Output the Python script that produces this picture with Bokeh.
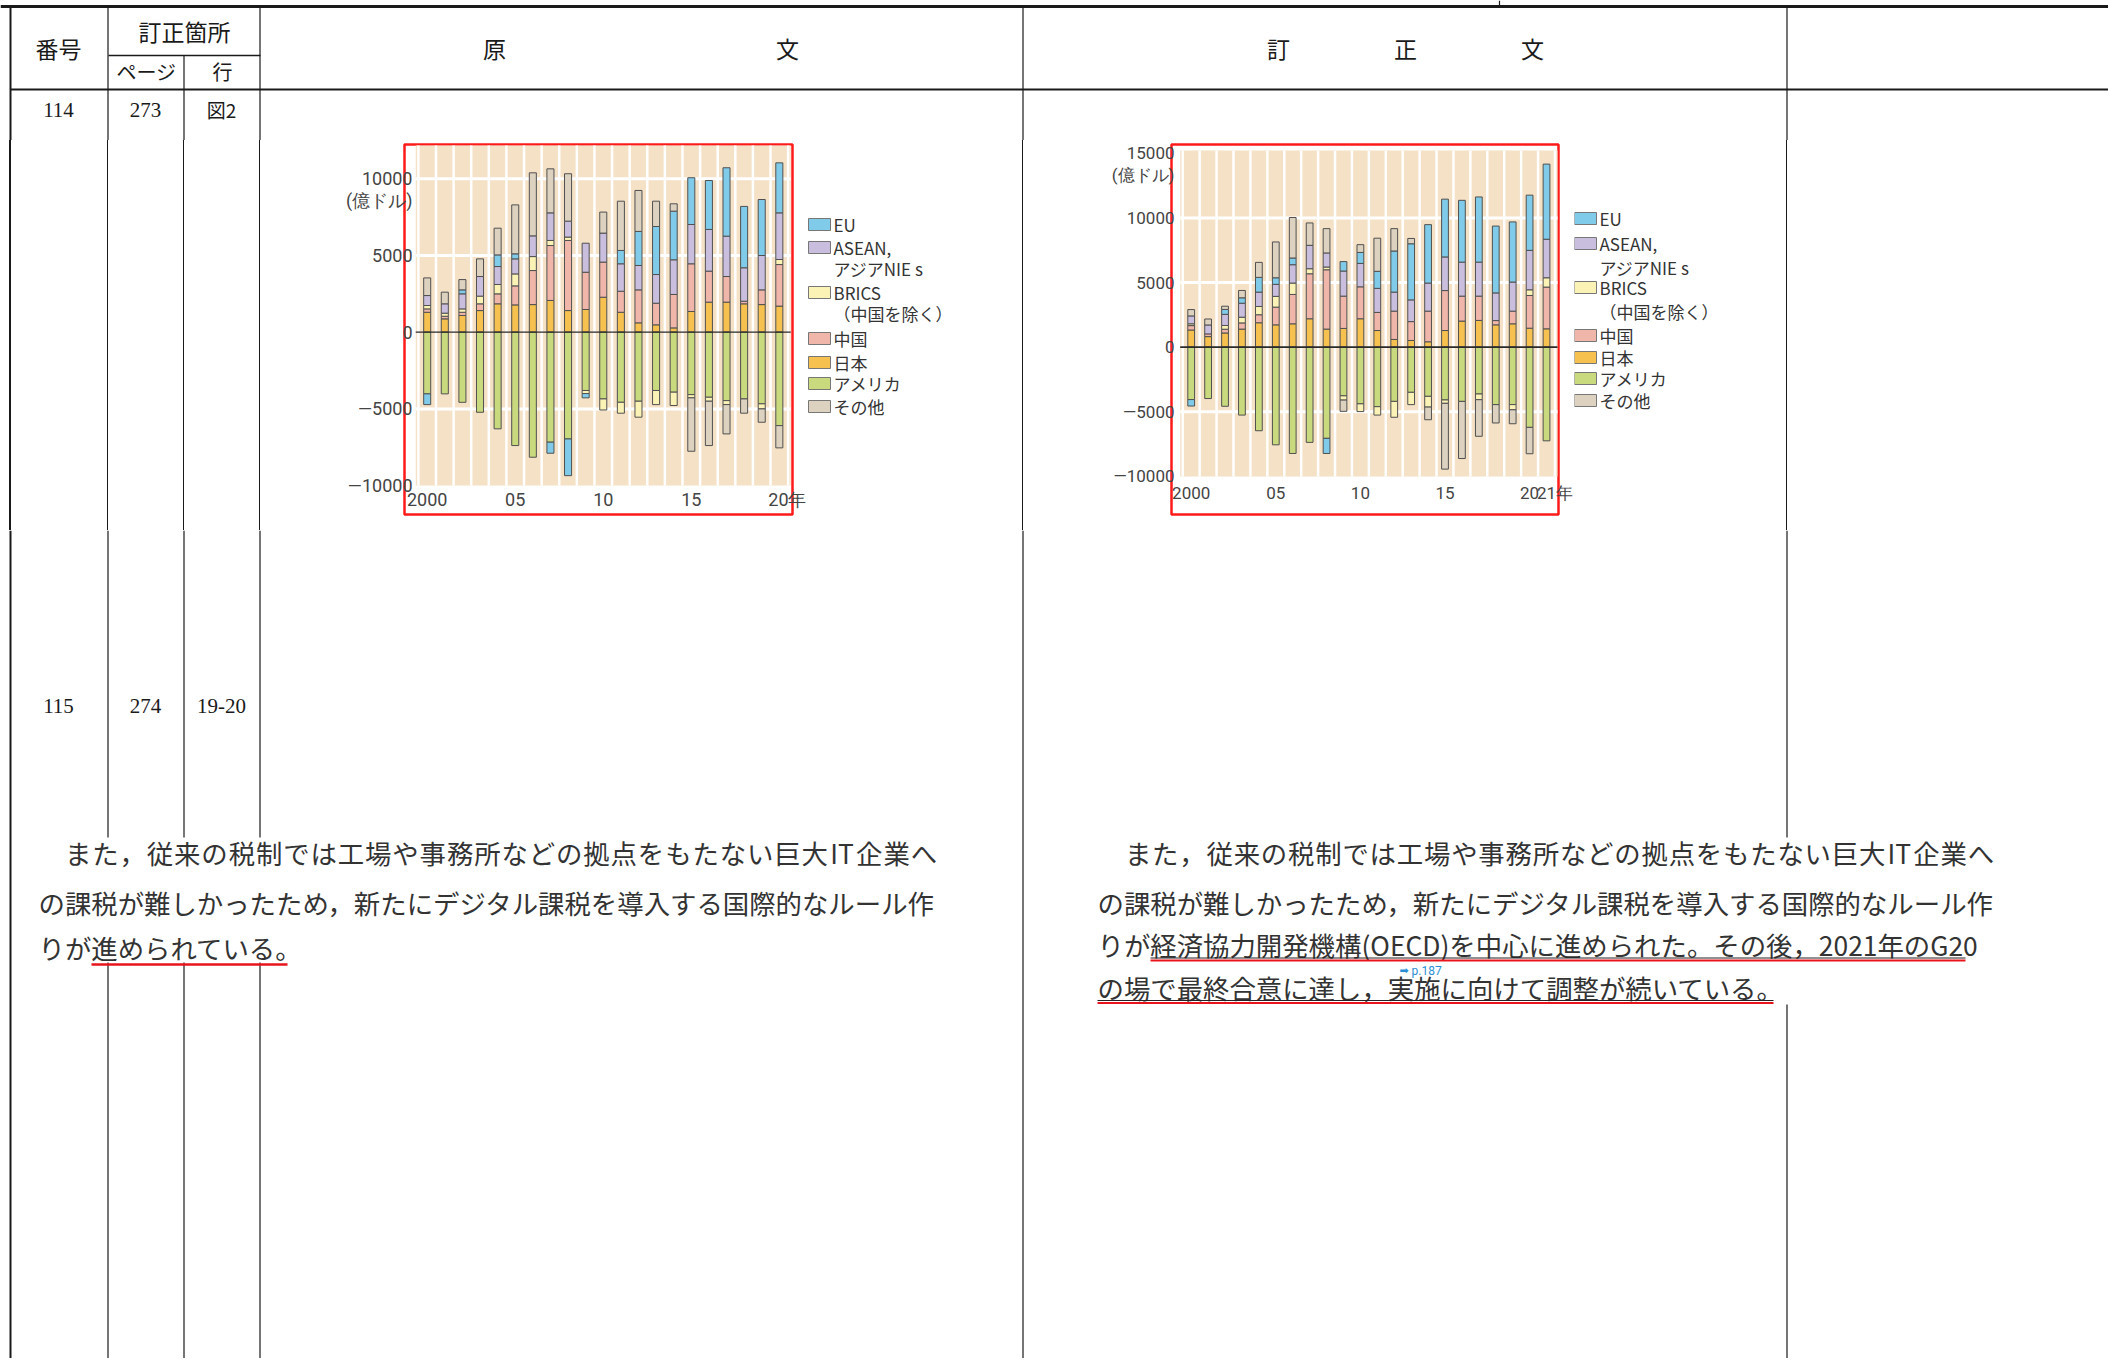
from bokeh.plotting import figure
from bokeh.layouts import column, row
from bokeh.models import Range1d, FixedTicker, ColumnDataSource, Spacer, Div
from bokeh.embed import file_html
from bokeh.resources import INLINE
from bokeh.core.properties import value

# ---------------- data (100 million US$) ----------------
series_keys = ["eu", "asean", "brics", "china", "japan", "usa", "other"]
legend_lines = [["EU"], ["ASEAN,", "アジアNIE s"], ["BRICS", "（中国を除く）"],
                ["中国"], ["日本"], ["アメリカ"], ["その他"]]

years_orig = list(range(2000, 2021))
eu_orig    = [-700, 0, 260, 0, 760, 330, 0, -720, -2390, -280, 0, 870, 2220, 3130, 3170, 3050, 3190, 4460, 4000, 3650, 3260]
asean_orig = [650, 610, 980, 1280, 1170, 980, 1350, 1800, 1040, 1890, 1890, 1790, 1590, 1870, 2260, 2560, 2720, 2630, 2180, 2240, 3040]
brics_orig = [220, 200, 220, 500, 610, 780, 910, 330, 220, -200, -720, -710, -1040, -920, -870, -210, -260, -260, 0, -330, 330]
china_orig = [220, 170, 210, 440, 650, 1240, 2220, 3580, 4570, 2430, 2290, 1370, 2150, 1410, 2180, 3110, 2020, 1670, 170, 960, 2710]
japan_orig = [1300, 870, 1090, 1410, 1850, 1780, 1800, 2070, 1410, 1480, 2280, 1300, 610, 480, 280, 1350, 1960, 1960, 1850, 1800, 1700]
usa_orig   = [-4020, -4020, -4570, -5220, -6300, -7390, -8150, -7170, -6960, -3800, -4350, -4570, -4500, -3800, -3910, -4070, -4240, -4460, -4350, -4670, -6090]
other_orig = [1150, 760, 670, 1150, 1740, 3190, 4110, 2870, 3090, 0, 1370, 3210, 2670, 1650, 480, -3480, -2890, -1910, -930, -870, -1450]

years_corr = list(range(2000, 2022))
eu_corr    = [-500, 0, 380, 420, 1140, 510, 520, 0, -1170, 730, 850, 1320, 3180, 4340, 4520, 4470, 4780, 5040, 5170, 4650, 4270, 5810]
asean_corr = [610, 690, 860, 1080, 1110, 930, 1420, 1810, 1090, 1940, 1810, 1860, 1470, 1680, 2170, 2600, 2630, 2630, 2140, 2250, 3050, 2980]
brics_corr = [140, 0, 290, 440, 640, 830, 880, 390, 210, -330, -600, -650, -1230, -950, -830, -260, 0, -440, 0, -400, 440, 720]
china_corr = [340, 210, 290, 480, 620, 1370, 2270, 3480, 4590, 2500, 2470, 1400, 2190, 1460, 2370, 3090, 1930, 1880, 330, 980, 2530, 3230]
japan_corr = [1330, 820, 1100, 1400, 1890, 1730, 1810, 2200, 1400, 1450, 2200, 1290, 600, 520, 420, 1290, 2020, 2070, 1730, 1810, 1470, 1420]
usa_corr   = [-4050, -3970, -4570, -5250, -6460, -7550, -8220, -7360, -7050, -3760, -4380, -4600, -4190, -3490, -3800, -4080, -4190, -3620, -4440, -4440, -6200, -7240]
other_corr = [490, 460, 250, 570, 1160, 2770, 3130, 1730, 1880, -870, 600, 2560, 1730, 410, -980, -5090, -4420, -2830, -1420, -1080, -2040, 0]

xticks_orig = [2000, 2005, 2010, 2015, 2020]
xlabels_orig = ["2000", "05", "10", "15", "\u300020年"]
xticks_corr = [2000, 2005, 2010, 2015, 2020, 2021]
xlabels_corr = ["2000", "05", "10", "15", "20", "\u300021年"]
yticks_orig = [-10000, -5000, 0, 5000, 10000]
yticks_corr = [-10000, -5000, 0, 5000, 10000, 15000]
ygrid_vals = [-5000, 5000, 10000]
unit_label = "(億ドル)"

# ---------------- styling ----------------
COLOR = {"eu": "#7fcbe9", "asean": "#c9bedd", "brics": "#fbf3b6", "china": "#f1b6aa",
         "japan": "#f6c14f", "usa": "#c9d97d", "other": "#dcd2bf"}
POS_ORDER = ["japan", "china", "brics", "asean", "eu", "other", "usa"]
NEG_ORDER = ["usa", "brics", "eu", "other", "japan", "china", "asean"]
BEIGE = "#f4e1c6"
INK = "#1a1a1a"
CJK = "Noto Sans CJK JP"
PAGE_W = 2108
ROW_Y0, ROW_Y1 = 140, 530
FRAME_T, FRAME_B = 144, 514
BOT_Y1 = 1358
H = ROW_Y1 - ROW_Y0


def stack_source(years, table):
    xs, bots, tops, cols = [], [], [], []
    for i, yr in enumerate(years):
        base = 0.0
        for k in POS_ORDER:
            v = table[k][i]
            if v > 0:
                xs.append(yr); bots.append(base); tops.append(base + v); cols.append(COLOR[k]); base += v
        base = 0.0
        for k in NEG_ORDER:
            v = table[k][i]
            if v < 0:
                xs.append(yr); bots.append(base + v); tops.append(base); cols.append(COLOR[k]); base += v
    return ColumnDataSource(dict(x=xs, bottom=bots, top=tops, color=cols))


def blank(x0, x1, y0, y1, bt=0, bb=0):
    p = figure(width=x1 - x0, height=y1 - y0, x_range=Range1d(x0, x1),
               y_range=Range1d(y1 - bb, y0 + bt),
               output_backend="svg", toolbar_location=None, title=None,
               min_border_left=0, min_border_right=0, min_border_top=bt, min_border_bottom=bb,
               x_axis_location=None, y_axis_location=None)
    p.outline_line_color = None
    p.background_fill_color = "white"
    p.border_fill_color = "white"
    p.grid.grid_line_color = None
    return p


def vrule(w):
    html = f'<div style="width:{w}px;height:{H}px;background-color:{INK};margin:0;padding:0"></div>'
    return Div(text=html, width=w, height=H, margin=0,
               styles={"background-color": INK, "padding": "0", "margin": "0"})


def gap(w):
    return Spacer(width=w, height=H, margin=0)


def vlines(p, xs, y0, y1, width=1.2):
    p.segment(x0=xs, y0=[y0] * len(xs), x1=xs, y1=[y1] * len(xs), line_color=INK, line_width=width)


def make_chart(years, table, fx0, fx1, frame_lr, xr, yr, beige_y, yticks, unit_val,
               xticks, xlabels, tick_size, x_standoff, y_standoff, zero_w):
    fl, fr = frame_lr
    p = figure(width=fx1 - fx0, height=H, x_range=Range1d(*xr), y_range=Range1d(*yr),
               output_backend="svg", toolbar_location=None, title=None,
               min_border_left=fl - fx0, min_border_right=fx1 - fr,
               min_border_top=FRAME_T - ROW_Y0, min_border_bottom=ROW_Y1 - FRAME_B)
    p.background_fill_color = "white"
    p.border_fill_color = "white"
    p.outline_line_color = "#ff1a1a"
    p.outline_line_width = 2.5
    p.grid.grid_line_color = None

    bx0, bx1 = years[0] - 0.65, years[-1] + 0.65
    p.quad(left=[bx0], right=[bx1], bottom=[beige_y[0]], top=[beige_y[1]],
           fill_color=BEIGE, line_color=None)
    sx = [y - 0.5 for y in years] + [years[-1] + 0.5]
    p.segment(x0=sx, y0=[beige_y[0]] * len(sx), x1=sx, y1=[beige_y[1]] * len(sx),
              line_color="white", line_width=2.5)
    p.segment(x0=[bx0] * len(ygrid_vals), y0=ygrid_vals, x1=[bx1] * len(ygrid_vals), y1=ygrid_vals,
              line_color="white", line_width=3)

    src = stack_source(years, table)
    p.vbar(x="x", bottom="bottom", top="top", width=0.4, fill_color="color",
           line_color="#505050", line_width=1, source=src)
    p.segment(x0=[bx0], y0=[0], x1=[bx1], y1=[0], line_color="#2a2a2a", line_width=zero_w)

    for ax in (p.xaxis[0], p.yaxis[0]):
        ax.axis_line_color = None
        ax.major_tick_line_color = None
        ax.minor_tick_line_color = None
        ax.major_label_text_font = "Roboto"
        ax.major_label_text_font_size = tick_size
        ax.major_label_text_color = "#444444"
    p.xaxis.ticker = FixedTicker(ticks=xticks)
    p.xaxis.major_label_overrides = {t: s for t, s in zip(xticks, xlabels)}
    p.xaxis.major_label_standoff = x_standoff
    p.yaxis.ticker = FixedTicker(ticks=yticks + [unit_val])
    ov = {t: ("—" + str(-t) if t < 0 else str(t)) for t in yticks}
    ov[unit_val] = unit_label
    p.yaxis.major_label_overrides = ov
    p.yaxis.major_label_standoff = y_standoff
    return p


def make_legend(x0, x1, sw_x, txt_x, rows_y, second_dy):
    p = blank(x0, x1, ROW_Y0, ROW_Y1, bt=FRAME_T - ROW_Y0, bb=ROW_Y1 - FRAME_B)
    cols = [COLOR[k] for k in series_keys]
    p.rect(x=[sw_x + 11] * len(rows_y), y=rows_y, width=22, height=12, fill_color=cols,
           line_color="#777777", line_width=1)
    tx, ty, tt = [], [], []
    for lines, y in zip(legend_lines, rows_y):
        for j, s in enumerate(lines):
            tx.append(txt_x); ty.append(y + j * second_dy); tt.append(s)
    p.text(x=tx, y=ty, text=tt, text_baseline="middle", text_align="left",
           text_font=value(CJK), text_font_size="17px", text_color="#333333")
    return p


tab_orig = dict(eu=eu_orig, asean=asean_orig, brics=brics_orig, china=china_orig,
                japan=japan_orig, usa=usa_orig, other=other_orig)
tab_corr = dict(eu=eu_corr, asean=asean_corr, brics=brics_corr, china=china_corr,
                japan=japan_corr, usa=usa_corr, other=other_corr)

chart1 = make_chart(years_orig, tab_orig, 330, 806, (404, 792), (1998.711, 2020.748),
                    (-11884, 12236), (-10000, 12170), yticks_orig, 8600,
                    xticks_orig, xlabels_orig, "18px", -32, -14, 1.2)
chart2 = make_chart(years_corr, tab_corr, 1100, 1574, (1171, 1558), (1998.836, 2021.708),
                    (-12939, 15677), (-10000, 15210), yticks_corr, 13300,
                    xticks_corr, xlabels_corr, "17px", -38, -9, 1.8)

legend1 = make_legend(806, 960, 808, 833, [224, 247, 292, 338, 362, 383, 406], 21)
legend2 = make_legend(1574, 1760, 1574, 1599, [218, 243, 287, 335, 357, 378, 400], 23.5)

# ---------------- table scaffolding ----------------
top = blank(0, PAGE_W, 0, ROW_Y0)
top.segment(x0=[0], y0=[6], x1=[PAGE_W], y1=[6], line_color=INK, line_width=3)
top.segment(x0=[10], y0=[89], x1=[PAGE_W], y1=[89], line_color=INK, line_width=2)
top.segment(x0=[108], y0=[55], x1=[260], y1=[55], line_color=INK, line_width=1.5)
vlines(top, [10], 6, ROW_Y0, width=2)
vlines(top, [107.5, 259.5, 1022.5, 1786.5], 6, ROW_Y0)
vlines(top, [183.5], 55, ROW_Y0)
vlines(top, [1499], 0, 6)
top.text(x=[58, 184, 494, 787, 1278, 1405, 1532], y=[47, 30, 47, 47, 47, 47, 47],
         text=["番号", "訂正箇所", "原", "文", "訂", "正", "文"], text_align="center",
         text_baseline="middle", text_font=value(CJK), text_font_size="23px", text_color=INK)
top.text(x=[146, 222], y=[71, 71], text=["ページ", "行"], text_align="center",
         text_baseline="middle", text_font=value(CJK), text_font_size="20px", text_color=INK)
top.text(x=[58, 145], y=[109, 109], text=["114", "273"], text_align="center",
         text_baseline="middle", text_font=value("Liberation Serif"), text_font_size="21px",
         text_color=INK)
top.text(x=[221], y=[109], text=["図2"], text_align="center", text_baseline="middle",
         text_font=value(CJK), text_font_size="19px", text_color=INK)

middle = row(
    gap(9), vrule(2), gap(96), vrule(1), gap(75), vrule(1), gap(75), vrule(1), gap(70),
    chart1, legend1,
    gap(62), vrule(1), gap(77),
    chart2, legend2,
    gap(26), vrule(1), gap(PAGE_W - 1787),
)

bot = blank(0, PAGE_W, ROW_Y1, BOT_Y1)
vlines(bot, [10], ROW_Y1, BOT_Y1, width=2)
vlines(bot, [107.5, 183.5, 259.5], ROW_Y1, 837)
vlines(bot, [107.5, 183.5, 259.5], 962, BOT_Y1)
vlines(bot, [1022.5], ROW_Y1, BOT_Y1)
vlines(bot, [1786.5], ROW_Y1, 837)
vlines(bot, [1786.5], 1004, BOT_Y1)
bot.text(x=[58, 145, 221], y=[705, 705, 705], text=["115", "274", "19-20"], text_align="center",
         text_baseline="middle", text_font=value("Liberation Serif"), text_font_size="21px",
         text_color=INK)

para_font = dict(text_baseline="middle", text_font=value(CJK), text_font_size="26.4px",
                 text_color="#333333")
line1 = "また，従来の税制では工場や事務所などの拠点をもたない巨大IT企業へ"
line2 = "の課税が難しかったため，新たにデジタル課税を導入する国際的なルール作"


def char_units(s):
    out, i = [], 0
    while i < len(s):
        if s[i:i + 2] == "IT":
            out.append("IT"); i += 2
        else:
            out.append(s[i]); i += 1
    return out


def justified(p, s, x0, x1, y):
    u = char_units(s)
    w = (x1 - x0) / len(u)
    p.text(x=[x0 + w * (i + 0.5) for i in range(len(u))], y=[y] * len(u), text=u,
           text_align="center", **para_font)


# original text
justified(bot, line1, 64, 937, 852)
bot.text(x=[38, 38], y=[902, 947], text=[line2, "りが進められている。"], text_align="left", **para_font)
bot.segment(x0=[91], y0=[964], x1=[287], y1=[964], line_color="#e8141b", line_width=2.5)
# corrected text
justified(bot, line1, 1124, 1994, 852)
bot.text(x=[1097, 1097, 1097], y=[902, 944, 987],
         text=[line2, "りが経済協力開発機構(OECD)を中心に進められた。その後，2021年のG20",
               "の場で最終合意に達し，実施に向けて調整が続いている。"],
         text_align="left", **para_font)
bot.segment(x0=[1150, 1097], y0=[957.5, 1000], x1=[1965, 1773], y1=[957.5, 1000],
            line_color="#222222", line_width=1)
bot.segment(x0=[1150, 1097], y0=[960, 1002.5], x1=[1965, 1773], y1=[960, 1002.5],
            line_color="#e8141b", line_width=2)
bot.text(x=[1399], y=[970], text=["➡"], text_align="left", text_baseline="middle",
         text_font=value("DejaVu Sans"), text_font_size="11px", text_color="#2a8fd6")
bot.text(x=[1411], y=[970], text=["p.187"], text_align="left", text_baseline="middle",
         text_font=value("Roboto"), text_font_size="12px", text_color="#2a8fd6")

layout = column(top, middle, bot)

open("out.html", "w").write(file_html(layout, INLINE))
